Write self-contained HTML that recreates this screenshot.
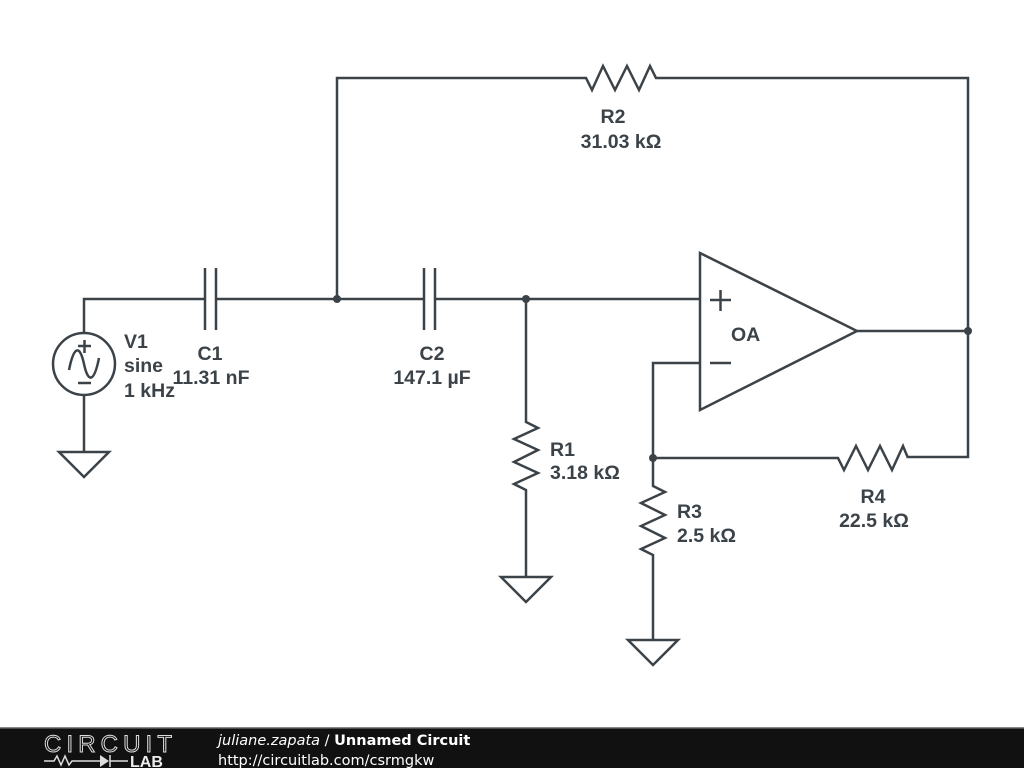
<!DOCTYPE html>
<html><head><meta charset="utf-8"><style>
body{margin:0;width:1024px;height:768px;overflow:hidden;background:#fff}
svg{display:block}
text{font-family:"Liberation Sans",sans-serif;font-weight:bold;font-size:19.5px;fill:#3b4349}
</style></head><body>
<svg width="1024" height="768" viewBox="0 0 1024 768">
<g fill="none" stroke="#3b4349" stroke-width="2.5" stroke-linejoin="miter">
<polyline points="337,299 337,78 586,78 592,90 603,66 615,90 627,66 639,90 650,66 656,78 968,78 968,457 908,457"/>
<polyline points="84,333 84,299 205,299"/>
<line x1="205" y1="268" x2="205" y2="330"/><line x1="216" y1="268" x2="216" y2="330"/>
<line x1="216" y1="299" x2="424" y2="299"/>
<line x1="424" y1="268" x2="424" y2="330"/><line x1="435" y1="268" x2="435" y2="330"/>
<line x1="435" y1="299" x2="700" y2="299"/>
<circle cx="84" cy="364" r="31"/>
<line x1="84" y1="395" x2="84" y2="452"/>
<polygon points="59,452 109,452 84,477"/>
<path d="M69,370 C74,345 80,345 84,364 C88,383 94,383 99,358"/>
<line x1="78" y1="346" x2="91" y2="346"/><line x1="84.5" y1="340" x2="84.5" y2="353"/>
<line x1="78" y1="383" x2="91" y2="383"/>
<polyline points="526,299 526,422 538,428 514,439 538,450 514,462 538,473 514,484 526,490 526,577"/>
<polygon points="501,577 551,577 526,602"/>
<polygon points="700,253 700,410 857,331"/>
<line x1="710" y1="300" x2="731" y2="300"/><line x1="720.5" y1="290" x2="720.5" y2="311"/>
<line x1="710" y1="363" x2="731" y2="363"/>
<line x1="857" y1="331" x2="968" y2="331"/>
<polyline points="700,363 653,363 653,486 665,492 641,503 665,515 641,526 665,538 641,549 653,555 653,640"/>
<polygon points="628,640 678,640 653,665"/>
<polyline points="653,458 838,458 844,470 856,446 868,470 880,446 892,470 903,446 908,458"/>
</g>
<g fill="#3b4349">
<circle cx="337" cy="299" r="4"/><circle cx="526" cy="299" r="4"/>
<circle cx="968" cy="331" r="4"/><circle cx="653" cy="458" r="4"/>
</g>
<text x="613" y="123" text-anchor="middle">R2</text>
<text x="621" y="148" text-anchor="middle">31.03 kΩ</text>
<text x="124" y="348">V1</text>
<text x="124" y="372">sine</text>
<text x="124" y="397">1 kHz</text>
<text x="210" y="360" text-anchor="middle">C1</text>
<text x="211" y="384" text-anchor="middle">11.31 nF</text>
<text x="432" y="360" text-anchor="middle">C2</text>
<text x="432" y="384" text-anchor="middle">147.1 µF</text>
<text x="731" y="341">OA</text>
<text x="550" y="456">R1</text>
<text x="550" y="479">3.18 kΩ</text>
<text x="677" y="518">R3</text>
<text x="677" y="542">2.5 kΩ</text>
<text x="873" y="503" text-anchor="middle">R4</text>
<text x="874" y="527" text-anchor="middle">22.5 kΩ</text>
<rect x="0" y="728" width="1024" height="40" fill="#111"/>
<rect x="0" y="727" width="1024" height="1.5" fill="#888"/>
<text x="44" y="752" style="font-weight:normal;font-size:24px;fill:none;stroke:#ddd;stroke-width:1" textLength="128">CIRCUIT</text>
<g stroke="#ddd" stroke-width="1.5" fill="none"><polyline points="44,761 54,761 57,756 61,765 65,756 69,765 72,761 100,761"/><line x1="110" y1="755" x2="110" y2="767"/><line x1="110" y1="761" x2="128" y2="761"/></g>
<polygon points="100,755 100,767 109,761" fill="#ddd"/>
<text x="130" y="767" style="font-size:16px;fill:#eee">LAB</text>
<text x="218" y="745" style="font-family:'DejaVu Sans',sans-serif;font-weight:normal;font-style:italic;font-size:14.5px;fill:#fff">juliane.zapata <tspan style="font-style:normal">/</tspan> <tspan style="font-style:normal;font-weight:bold">Unnamed Circuit</tspan></text>
<text x="218" y="765" style="font-family:'DejaVu Sans',sans-serif;font-weight:normal;font-size:14.5px;fill:#fff">http://circuitlab.com/csrmgkw</text>
</svg>
</body></html>
